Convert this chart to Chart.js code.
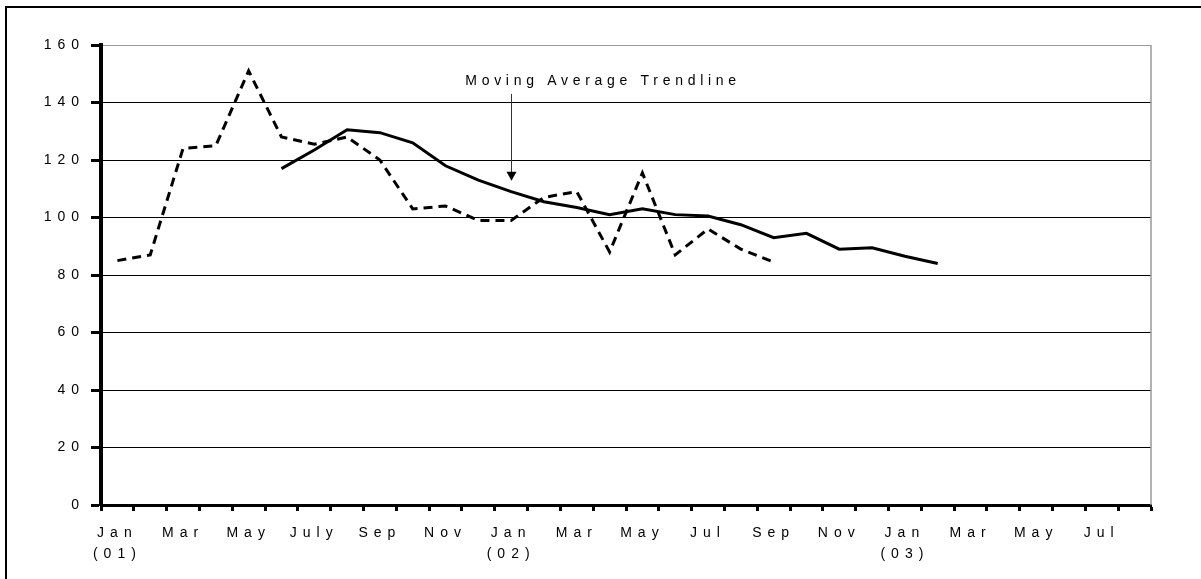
<!DOCTYPE html>
<html>
<head>
<meta charset="utf-8">
<script src="https://cdn.jsdelivr.net/npm/chart.js@4/dist/chart.umd.min.js"></script>
<style>
  html, body { margin: 0; padding: 0; background: #fff; }
  #frame {
    position: absolute; left: 5px; top: 6px; right: 0; bottom: 0;
    border-top: 2px solid #000; border-left: 2px solid #000;
  }
  #wrap { position: absolute; left: 0; top: 0; width: 1201px; height: 579px; }
</style>
</head>
<body>
<div id="frame"></div>
<div id="wrap"><canvas id="trendChart"></canvas></div>
<script>
// Months Jan 2001 - Aug 2003, one category each
const categories = [
    '2001-01', '2001-02', '2001-03', '2001-04', '2001-05', '2001-06',
    '2001-07', '2001-08', '2001-09', '2001-10', '2001-11', '2001-12',
    '2002-01', '2002-02', '2002-03', '2002-04', '2002-05', '2002-06',
    '2002-07', '2002-08', '2002-09', '2002-10', '2002-11', '2002-12',
    '2003-01', '2003-02', '2003-03', '2003-04', '2003-05', '2003-06',
    '2003-07', '2003-08'
];

// Axis labels (every other month)
const tickLabels = [
    ['Jan', '(01)'], '', 'Mar', '', 'May', '', 'July', '', 'Sep', '', 'Nov', '',
    ['Jan', '(02)'], '', 'Mar', '', 'May', '', 'Jul', '', 'Sep', '', 'Nov', '',
    ['Jan', '(03)'], '', 'Mar', '', 'May', '', 'Jul', ''
];

// Monthly values (dashed)
const monthlyValues = [
    85, 87, 124, 125, 151, 128, 125.5, 128, 120, 103, 104, 99,
    99, 107, 109, 88, 115.5, 87, 96, 89, 84.5
];

// Moving average trendline (solid)
const movingAverage = [
    null, null, null, null, null, 117, 123.5, 130.5, 129.5, 126, 118, 113,
    109, 105.5, 103.5, 101, 103, 101, 100.5, 97.5, 93, 94.5, 89, 89.5,
    86.5, 84
];

const yTicks = [0, 20, 40, 60, 80, 100, 120, 140, 160];

const FONT = 'Arial, "Liberation Sans", sans-serif';
const AXIS_SPACING = '6px';
const NOTE_SPACING = '4.7px';

/**
 * Letter-spaced axis text (canvas state is reset on resize)
 */
const spacingPlugin = {
    id: 'spacing',
    beforeUpdate(chart) { chart.ctx.letterSpacing = AXIS_SPACING; },
    beforeLayout(chart) { chart.ctx.letterSpacing = AXIS_SPACING; },
    beforeDraw(chart) { chart.ctx.letterSpacing = AXIS_SPACING; }
};

/**
 * Right frame line and the annotation arrow
 */
const annotationPlugin = {
    id: 'annotation',
    beforeDatasetsDraw(chart) {
        const { ctx, chartArea } = chart;
        ctx.save();
        ctx.strokeStyle = '#999';
        ctx.lineWidth = 1.5;
        ctx.beginPath();
        ctx.moveTo(chartArea.right, chartArea.top);
        ctx.lineTo(chartArea.right, chartArea.bottom);
        ctx.stroke();
        ctx.restore();
    },
    afterDatasetsDraw(chart) {
        const { ctx } = chart;
        const x = chart.scales.x;
        const y = chart.scales.y;
        ctx.save();
        ctx.letterSpacing = NOTE_SPACING;
        ctx.font = '14px ' + FONT;
        ctx.fillStyle = '#000';
        ctx.textAlign = 'center';
        ctx.textBaseline = 'alphabetic';
        ctx.fillText('Moving Average Trendline', x.getPixelForValue(14.8), y.getPixelForValue(146));

        // arrow
        const ax = Math.round(x.getPixelForValue(12)) + 0.5;
        const top = y.getPixelForValue(143);
        const tip = y.getPixelForValue(112.8);
        ctx.strokeStyle = '#333';
        ctx.lineWidth = 1;
        ctx.beginPath();
        ctx.moveTo(ax, top);
        ctx.lineTo(ax, tip - 7);
        ctx.stroke();
        ctx.fillStyle = '#000';
        ctx.beginPath();
        ctx.moveTo(ax - 5, tip - 9);
        ctx.lineTo(ax + 5, tip - 9);
        ctx.lineTo(ax, tip);
        ctx.closePath();
        ctx.fill();
        ctx.restore();
    }
};

new Chart(document.getElementById('trendChart'), {
    type: 'line',
    data: {
        labels: categories,
        datasets: [{
            label: 'Monthly',
            data: monthlyValues,
            borderColor: '#000',
            borderWidth: 3,
            borderDash: [9, 6],
            pointRadius: 0,
            tension: 0,
            fill: false
        }, {
            label: 'Moving Average',
            data: movingAverage,
            borderColor: '#000',
            borderWidth: 3,
            pointRadius: 0,
            tension: 0,
            fill: false,
            spanGaps: false
        }]
    },
    options: {
        responsive: true,
        maintainAspectRatio: false,
        animation: false,
        events: [],
        layout: {
            padding: { left: 0, top: 45, right: 50, bottom: 10 }
        },
        plugins: {
            legend: { display: false },
            tooltip: { enabled: false }
        },
        scales: {
            x: {
                type: 'category',
                offset: true,
                afterFit: (scale) => { scale.height = 64; },
                grid: {
                    offset: true,
                    drawOnChartArea: false,
                    drawTicks: true,
                    tickLength: 6,
                    tickWidth: 3,
                    tickColor: '#000'
                },
                border: { display: true, color: '#000', width: 3 },
                ticks: {
                    autoSkip: false,
                    maxRotation: 0,
                    minRotation: 0,
                    padding: 11,
                    color: '#000',
                    font: { family: FONT, size: 14, lineHeight: 1.55 },
                    callback: (value, index) => tickLabels[index]
                }
            },
            y: {
                min: 0,
                max: 160,
                afterFit: (scale) => { scale.width = 101; },
                afterBuildTicks: (scale) => { scale.ticks = yTicks.map(v => ({ value: v })); },
                grid: {
                    color: (c) => c.tick && c.tick.value === 160 ? '#999' : '#000',
                    lineWidth: 1,
                    drawTicks: true,
                    tickLength: 10,
                    tickWidth: 3,
                    tickColor: '#000'
                },
                border: { display: true, color: '#000', width: 4 },
                ticks: {
                    padding: 6,
                    color: '#000',
                    font: { family: FONT, size: 14 }
                }
            }
        }
    },
    plugins: [spacingPlugin, annotationPlugin]
});
</script>
</body>
</html>
